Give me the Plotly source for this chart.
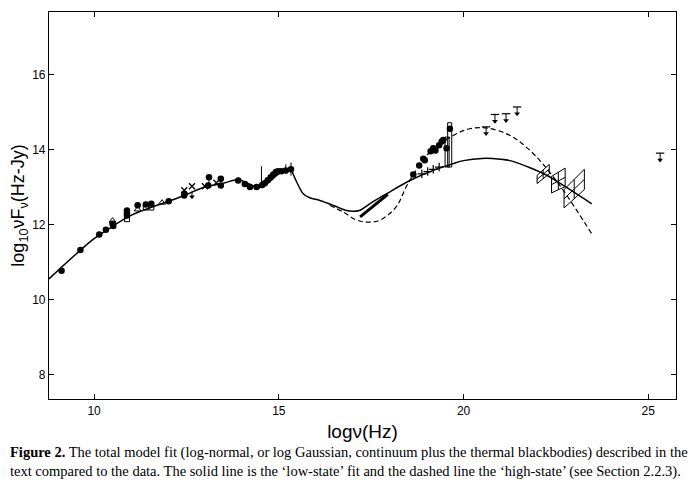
#Broad-band SED with low-state (solid) and high-state (dashed) model fits
import plotly.graph_objects as go

#model curves, log nu vs log nuFnu
low_x = [8.78, 9.5, 10.0, 10.5, 11.0, 11.5, 12.0, 12.5, 13.0, 13.5, 13.9, 14.2, 14.45,
         14.7, 15.0, 15.3, 15.45, 15.66, 15.84, 16.11, 16.5, 16.8, 17.0, 17.2, 17.46,
         17.92, 18.55, 19.18, 19.72, 20.0, 20.5, 21.0, 21.26, 21.8, 22.25, 22.7, 23.47]
low_y = [10.55, 11.2, 11.62, 11.95, 12.24, 12.44, 12.61, 12.8, 13.0, 13.1, 13.19, 13.08, 12.98,
         13.1, 13.35, 13.47, 13.2, 12.82, 12.71, 12.64, 12.5, 12.38, 12.35, 12.38, 12.55,
         12.82, 13.17, 13.44, 13.62, 13.7, 13.76, 13.74, 13.7, 13.51, 13.31, 13.04, 12.55]

high_x = [16.38, 16.74, 17.1, 17.4, 17.7, 17.95, 18.2, 18.5, 19.09, 19.72, 20.17, 20.63,
          21.26, 21.8, 22.25, 22.7, 23.47]
high_y = [12.51, 12.33, 12.12, 12.06, 12.1, 12.25, 12.5, 13.1, 13.93, 14.37, 14.55, 14.57,
          14.37, 13.97, 13.49, 12.91, 11.75]

#filled circles
dot_x = [9.12, 9.63, 10.14, 10.32, 10.50, 10.52, 10.89, 10.89, 10.89, 11.18, 11.40, 11.55,
         12.02, 12.44, 12.44, 13.09, 13.11, 13.43, 13.43, 13.90, 14.08, 14.22, 14.40,
         14.55, 14.62, 14.70, 14.78, 14.85, 14.92, 14.98, 15.07, 15.19, 15.33,
         18.64, 18.80, 18.91, 18.95, 19.11, 19.18, 19.24, 19.34, 19.41, 19.45, 19.54, 19.63]
dot_y = [10.77, 11.32, 11.73, 11.86, 12.02, 11.96, 12.37, 12.30, 12.24, 12.51, 12.53, 12.55,
         12.62, 12.77, 12.82, 13.04, 13.26, 13.22, 13.04, 13.17, 13.08, 13.00, 13.00,
         13.05, 13.10, 13.18, 13.26, 13.33, 13.40, 13.42, 13.42, 13.44, 13.47,
         13.33, 13.57, 13.75, 13.71, 13.95, 14.03, 13.97, 14.11, 14.21, 14.25, 14.03, 14.55]

#open triangles and squares
tri_x = [10.50, 11.18, 11.84]
tri_y = [12.10, 12.40, 12.58]
sq_x = [10.89, 11.40, 11.55]
sq_y = [12.14, 12.45, 12.45]

#crosses
cross_x = [12.44, 12.65, 13.00, 13.31]
cross_y = [12.91, 13.02, 13.02, 13.11]

#plus signs along the low-state fit
plus_x = [18.87, 19.03, 19.18, 19.34]
plus_y = [13.35, 13.41, 13.47, 13.53]

#vertical error bars (x, low, high)
err_x = [13.11, 14.53, 15.19, 15.33]
err_lo = [13.04, 13.00, 13.35, 13.30]
err_hi = [13.26, 13.55, 13.60, 13.65]

#upper limits (x, top, bottom)
lim_x = [12.65, 20.61, 20.85, 21.15, 21.45, 25.32]
lim_top = [12.88, 14.60, 14.93, 14.95, 15.13, 13.90]
lim_bot = [12.74, 14.42, 14.75, 14.77, 14.95, 13.72]

#soft x-ray spectrum segment
xray_x = [17.2, 17.95]
xray_y = [12.2, 12.8]

#x-ray error rectangles (x0, x1, y0, y1)
rect_x0 = [19.57, 19.50]
rect_x1 = [19.68, 19.61]
rect_y0 = [13.53, 13.53]
rect_y1 = [14.71, 14.33]

#gamma-ray boxes (left x, right x, left low/high, right low/high)
gam_xl = [21.99, 22.38, 22.72]
gam_xr = [22.32, 22.75, 23.27]
gam_ll = [13.09, 12.84, 12.44]
gam_lh = [13.31, 13.28, 12.93]
gam_rl = [13.35, 13.01, 12.93]
gam_rh = [13.60, 13.50, 13.47]

black = 'black'
fig = go.Figure()

#model fits
fig.add_trace(go.Scatter(x=low_x, y=low_y, mode='lines', line_shape='spline',
                         line=dict(color=black, width=1.5)))
fig.add_trace(go.Scatter(x=high_x, y=high_y, mode='lines', line_shape='spline',
                         line=dict(color=black, width=1.2, dash='5px,3px')))

#error bars and upper-limit stems
ex, ey = [], []
for x, lo, hi in zip(err_x, err_lo, err_hi):
    ex += [x, x, None]
    ey += [lo, hi, None]
for x, t, b in zip(lim_x, lim_top, lim_bot):
    ex += [x, x, None]
    ey += [t, b, None]
fig.add_trace(go.Scatter(x=ex, y=ey, mode='lines', line=dict(color=black, width=1)))

fig.add_trace(go.Scatter(x=lim_x, y=lim_bot, mode='markers',
                         marker=dict(symbol='triangle-down', size=5, color=black)))
fig.add_trace(go.Scatter(x=lim_x[1:], y=lim_top[1:], mode='markers',
                         marker=dict(symbol='line-ew', size=6, line=dict(color=black, width=1.2))))

#x-ray segment
fig.add_trace(go.Scatter(x=xray_x, y=xray_y, mode='lines', line=dict(color=black, width=3)))

#rectangles
rx, ry = [], []
for x0, x1, y0, y1 in zip(rect_x0, rect_x1, rect_y0, rect_y1):
    rx += [x0, x1, x1, x0, x0, None]
    ry += [y0, y0, y1, y1, y0, None]
#gamma boxes with mid lines
for xl, xr, ll, lh, rl, rh in zip(gam_xl, gam_xr, gam_ll, gam_lh, gam_rl, gam_rh):
    xm = (xl + xr) / 2
    rx += [xl, xr, xr, xl, xl, None, xl, xr, None, xm, xm, None]
    ry += [ll, rl, rh, lh, ll, None, (ll + lh) / 2, (rl + rh) / 2, None,
           (ll + rl) / 2, (lh + rh) / 2, None]
fig.add_trace(go.Scatter(x=rx, y=ry, mode='lines', line=dict(color=black, width=1)))

#data points
fig.add_trace(go.Scatter(x=dot_x, y=dot_y, mode='markers',
                         marker=dict(symbol='circle', size=6.5, color=black)))
fig.add_trace(go.Scatter(x=tri_x, y=tri_y, mode='markers',
                         marker=dict(symbol='triangle-up-open', size=6, color=black, line=dict(width=1))))
fig.add_trace(go.Scatter(x=sq_x, y=sq_y, mode='markers',
                         marker=dict(symbol='square-open', size=5, color=black, line=dict(width=1))))
fig.add_trace(go.Scatter(x=cross_x, y=cross_y, mode='markers',
                         marker=dict(symbol='x-thin', size=6, line=dict(color=black, width=1.3))))
fig.add_trace(go.Scatter(x=plus_x, y=plus_y, mode='markers',
                         marker=dict(symbol='cross-thin', size=6, line=dict(color=black, width=1.2))))

axis_style = dict(showline=True, linecolor=black, linewidth=1.2, mirror='ticks',
                  ticks='inside', ticklen=5, tickcolor=black, showgrid=False, zeroline=False,
                  automargin=False,
                  tickfont=dict(family='Liberation Sans', size=12, color=black))

fig.update_xaxes(range=[8.78, 25.75], tickvals=[10, 15, 20, 25],
                 title=dict(text='logν(Hz)', font=dict(family='Liberation Sans', size=19, color=black),
                            standoff=8),
                 **axis_style)
fig.update_yaxes(range=[7.35, 17.66], tickvals=[8, 10, 12, 14, 16],
                 title=dict(text='log<sub>10</sub>νF<sub>ν</sub>(Hz-Jy)',
                            font=dict(family='Liberation Sans', size=18, color=black), standoff=6),
                 **axis_style)

caption = ("<b>Figure 2.</b> The total model fit (log-normal, or log Gaussian, continuum plus the thermal blackbodies) described in the<br>"
           "text compared to the data. The solid line is the ‘low-state’ fit and the dashed line the ‘high-state’ (see Section 2.2.3).")
fig.add_annotation(text=caption, xref='paper', yref='paper', x=-0.065, y=-0.112,
                   xanchor='left', yanchor='top', align='left', showarrow=False,
                   font=dict(family='Liberation Serif', size=14.5, color=black))

#page body adds 8px around the figure, so size is 680x480 and margins offset
fig.update_layout(width=680, height=480, showlegend=False,
                  plot_bgcolor='white', paper_bgcolor='white',
                  margin=dict(l=41, r=12, t=4, b=89))

fig.write_html("out.html")
